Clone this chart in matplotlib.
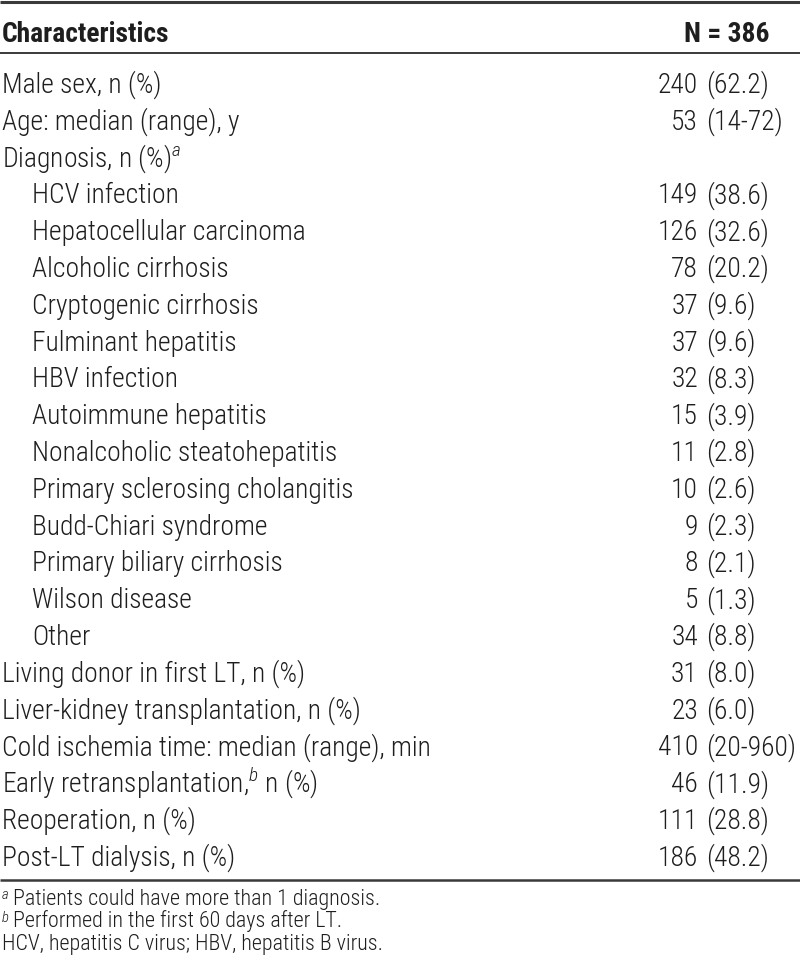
import matplotlib
matplotlib.use("Agg")
import matplotlib.pyplot as plt
from matplotlib import font_manager

# ------------------------------------------------------------
# Table data
# ------------------------------------------------------------
labels = [
    "Male sex, n (%)",
    "Age: median (range), y",
    "Diagnosis, n (%)$^{a}$",
    "HCV infection",
    "Hepatocellular carcinoma",
    "Alcoholic cirrhosis",
    "Cryptogenic cirrhosis",
    "Fulminant hepatitis",
    "HBV infection",
    "Autoimmune hepatitis",
    "Nonalcoholic steatohepatitis",
    "Primary sclerosing cholangitis",
    "Budd-Chiari syndrome",
    "Primary biliary cirrhosis",
    "Wilson disease",
    "Other",
    "Living donor in first LT, n (%)",
    "Liver-kidney transplantation, n (%)",
    "Cold ischemia time: median (range), min",
    "Early retransplantation,$^{b}$ n (%)",
    "Reoperation, n (%)",
    "Post-LT dialysis, n (%)",
]
indented = [False, False, False] + [True] * 13 + [False] * 6
counts = ["240", "53", "", "149", "126", "78", "37", "37", "32", "15", "11",
          "10", "9", "8", "5", "34", "31", "23", "410", "46", "111", "186"]
extras = ["(62.2)", "(14-72)", "", "(38.6)", "(32.6)", "(20.2)", "(9.6)",
          "(9.6)", "(8.3)", "(3.9)", "(2.8)", "(2.6)", "(2.3)", "(2.1)",
          "(1.3)", "(8.8)", "(8.0)", "(6.0)", "(20-960)", "(11.9)",
          "(28.8)", "(48.2)"]

header_left = "Characteristics"
header_right = "N = 386"
foot_marks = ["a", "b", ""]
footnotes = [
    "Patients could have more than 1 diagnosis.",
    "Performed in the first 60 days after LT.",
    "HCV, hepatitis C virus; HBV, hepatitis B virus.",
]

# ------------------------------------------------------------
# Font setup: pick a condensed sans
# ------------------------------------------------------------
ttf = font_manager.fontManager.ttflist
names = {f.name for f in ttf}
stretch = "normal"
if "Roboto Condensed" in names:
    fam = "Roboto Condensed"
elif "Archivo Narrow" in names:
    fam = "Archivo Narrow"
else:
    fam = "DejaVu Sans"
    stretch = "condensed"

has_light = any(f.name == fam and f.weight == 300 and f.style == "normal" for f in ttf)
body_weight = 300 if has_light else "normal"

body_size = 19.8
foot_size = 15.8

plt.rcParams["font.family"] = [fam, "DejaVu Sans"]
plt.rcParams["font.stretch"] = stretch
plt.rcParams["mathtext.fontset"] = "custom"
plt.rcParams["mathtext.rm"] = fam
plt.rcParams["mathtext.it"] = fam + (":italic:light" if has_light else ":italic")

txt_color = "#1e1e1e"
line_color = "#3a3a3a"

# ------------------------------------------------------------
# Canvas in pixel units
# ------------------------------------------------------------
fig = plt.figure(figsize=(8.0, 9.73), dpi=100)
ax = fig.add_axes([0, 0, 1, 1])
ax.set_xlim(0, 800)
ax.set_ylim(973, 0)
ax.axis("off")

# rules
ax.plot([0, 800], [2, 2], color=line_color, lw=2.2, solid_capstyle="butt")
ax.plot([0, 800], [53, 53], color=line_color, lw=1.4, solid_capstyle="butt")
ax.plot([0, 800], [880, 880], color=line_color, lw=1.8, solid_capstyle="butt")

# header
ax.text(2, 42, header_left, fontsize=body_size, fontweight="bold",
        color=txt_color, va="baseline", ha="left")
ax.text(770, 42, header_right, fontsize=body_size, fontweight="bold",
        color=txt_color, va="baseline", ha="right")

# body rows
row0 = 83
step = 36.8
for i, lab in enumerate(labels):
    yb = row0 + i * step + 10
    x = 32 if indented[i] else 2
    ax.text(x, yb, lab, fontsize=body_size, fontweight=body_weight,
            color=txt_color, va="baseline", ha="left")
    if counts[i]:
        ax.text(698, yb, counts[i], fontsize=body_size, fontweight=body_weight,
                color=txt_color, va="baseline", ha="right")
        ax.text(706, yb, extras[i], fontsize=body_size, fontweight=body_weight,
                color=txt_color, va="baseline", ha="left")

# footnotes
for j, note in enumerate(footnotes):
    yb = 905 + j * 22.5
    x = 2
    if foot_marks[j]:
        ax.text(2, yb - 6, foot_marks[j], fontsize=10.5, style="italic",
                fontweight=body_weight, color=txt_color, va="baseline", ha="left")
        x = 13
    ax.text(x, yb, note, fontsize=foot_size, fontweight=body_weight,
            color=txt_color, va="baseline", ha="left")

fig.savefig("out.png", dpi=100)
